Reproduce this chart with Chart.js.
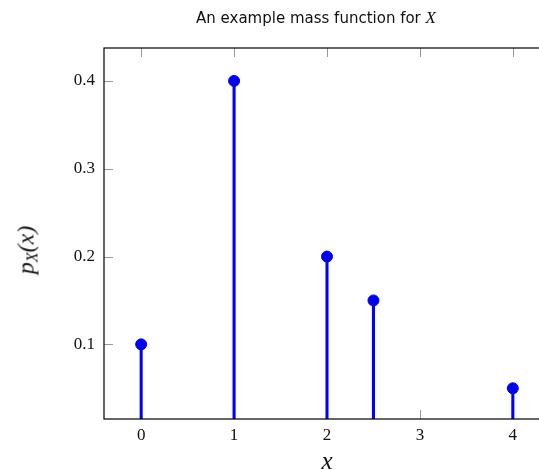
<!DOCTYPE html>
<html lang="en">

<head>
    <meta charset="UTF-8">
    <title>Mass function</title>
    <script src="https://cdn.jsdelivr.net/npm/chart.js"></script>
    <style>
        html, body { margin: 0; padding: 0; overflow: hidden; background: #fff; }
        .wrap { position: relative; width: 539px; height: 470px; overflow: hidden; }
        .chart-box { position: absolute; left: 0; top: 0; width: 560px; height: 470px; }
        .title { position: absolute; top: 8px; left: 0; width: 632px; text-align: center;
            font-family: "DejaVu Sans", sans-serif; font-size: 15px; color: #111; white-space: nowrap; }
        .title i { font-family: "Liberation Serif", serif; font-size: 17px; }
        .ylab { position: absolute; left: 27px; top: 250px; transform: translate(-50%, -50%) rotate(-90deg);
            font-family: "Liberation Serif", serif; font-style: italic; font-size: 24px; white-space: nowrap; color: #111; }
        .ylab sub { font-size: 16px; vertical-align: -4px; }
        .xlab { position: absolute; left: 327px; top: 461px; transform: translate(-50%, -50%);
            font-family: "Liberation Serif", serif; font-style: italic; font-size: 25px; color: #111; }
    </style>
</head>

<body>
    <div class="wrap">
        <div class="chart-box"><canvas id="pmfChart"></canvas></div>
        <div class="title">An example mass function for <i>X</i></div>
        <div class="ylab">p<sub>X</sub>(x)</div>
        <div class="xlab">x</div>
    </div>

    <script>
        // values
        const xValues = [0, 1, 2, 2.5, 4];
        const probabilities = [0.1, 0.4, 0.2, 0.15, 0.05];
        const xTicks = [0, 1, 2, 3, 4];
        const yTicks = [0.1, 0.2, 0.3, 0.4];

        const points = xValues.map((x, i) => ({ x: x, y: probabilities[i] }));

        // inward grey tick marks (under the stems) + black frame on top, like pgfplots
        const frameTicks = {
            id: 'frameTicks',
            beforeDatasetsDraw(chart) {
                const { ctx, chartArea: a, scales } = chart;
                ctx.save();
                ctx.strokeStyle = '#999';
                ctx.lineWidth = 1;
                ctx.beginPath();
                xTicks.forEach(v => {
                    const px = Math.round(scales.x.getPixelForValue(v)) + 0.5;
                    ctx.moveTo(px, a.bottom); ctx.lineTo(px, a.bottom - 9);
                    ctx.moveTo(px, a.top); ctx.lineTo(px, a.top + 9);
                });
                yTicks.forEach(v => {
                    const py = Math.round(scales.y.getPixelForValue(v)) + 0.5;
                    ctx.moveTo(a.left, py); ctx.lineTo(a.left + 9, py);
                    ctx.moveTo(a.right, py); ctx.lineTo(a.right - 9, py);
                });
                ctx.stroke();
                ctx.restore();
            },
            afterDraw(chart) {
                const { ctx, chartArea: a } = chart;
                ctx.save();
                ctx.strokeStyle = '#000';
                ctx.lineWidth = 1.2;
                ctx.strokeRect(a.left, a.top, a.right - a.left, a.bottom - a.top);
                ctx.restore();
            }
        };

        const ctx = document.getElementById('pmfChart').getContext('2d');
        new Chart(ctx, {
            data: {
                datasets: [{
                    type: 'scatter',
                    data: points,
                    backgroundColor: '#0000e6',
                    borderColor: '#0000ff',
                    borderWidth: 1,
                    pointRadius: 5.5,
                    order: 0
                }, {
                    type: 'bar',
                    data: points,
                    backgroundColor: '#0000ff',
                    barThickness: 2.4,
                    order: 1
                }]
            },
            options: {
                responsive: true,
                maintainAspectRatio: false,
                animation: false,
                layout: { padding: { top: 48, right: 10, left: 0, bottom: 0 } },
                plugins: { legend: { display: false }, tooltip: { enabled: false } },
                scales: {
                    x: {
                        type: 'linear',
                        min: -0.4,
                        max: 4.4,
                        offset: false,
                        grid: { display: false, drawTicks: false, offset: false },
                        border: { display: false },
                        afterBuildTicks: s => { s.ticks = xTicks.map(v => ({ value: v })); },
                        afterFit: s => { s.height = 51; },
                        ticks: {
                            padding: 6,
                            color: '#111',
                            font: { family: 'Liberation Serif', size: 17 },
                            callback: v => String(v)
                        }
                    },
                    y: {
                        type: 'linear',
                        min: 0.015,
                        max: 0.4375,
                        grid: { display: false, drawTicks: false },
                        border: { display: false },
                        afterBuildTicks: s => { s.ticks = yTicks.map(v => ({ value: v })); },
                        afterFit: s => { s.width = 104; },
                        ticks: {
                            padding: 9,
                            color: '#111',
                            font: { family: 'Liberation Serif', size: 17 },
                            callback: v => v.toFixed(1)
                        }
                    }
                }
            },
            plugins: [frameTicks]
        });
    </script>
</body>

</html>
